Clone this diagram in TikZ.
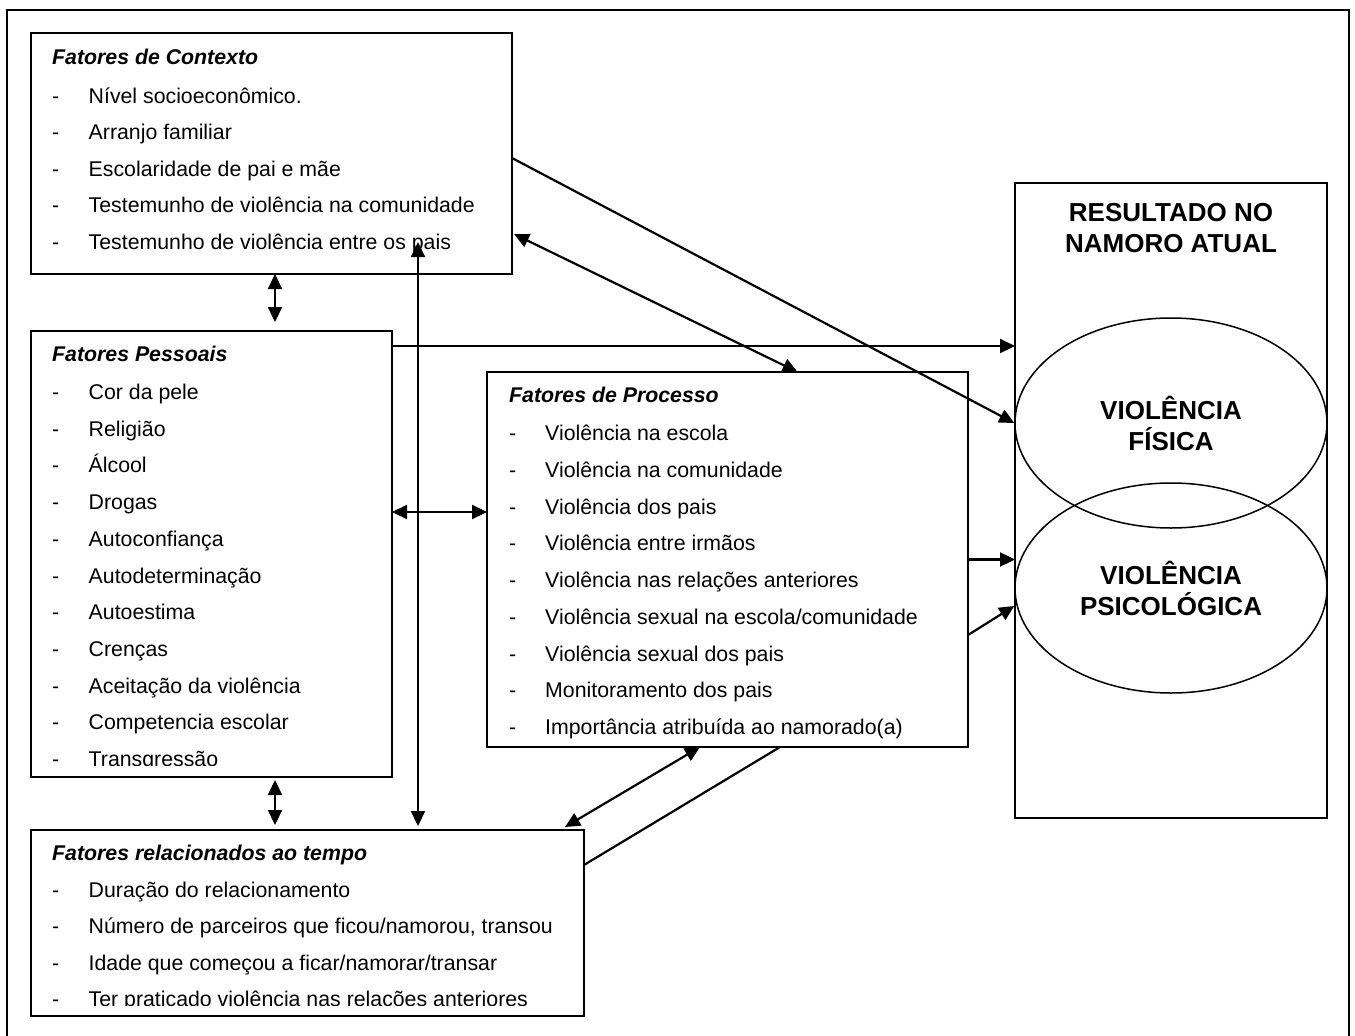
\documentclass[tikz,border=0pt]{standalone}
\usepackage{fontspec}
\setmainfont{Liberation Sans}
\usetikzlibrary{arrows.meta,shapes.geometric}
\tikzset{
  box/.style={draw, line width=1.6pt, rectangle, anchor=north west, inner sep=0pt, outer sep=0pt},
  txt/.style={anchor=base west, inner sep=0pt, font=\fontsize{21.3}{25}\selectfont},
  ttl/.style={anchor=base west, inner sep=0pt, font=\fontsize{21.3}{25}\selectfont\bfseries\itshape},
  big/.style={font=\fontsize{26}{31}\selectfont\bfseries, align=center},
  arr/.style={line width=2.2pt, -{Triangle[length=15pt,width=14pt]}},
  dbl/.style={line width=2.2pt, {Triangle[length=15pt,width=14pt]}-{Triangle[length=15pt,width=14pt]}},
  elli/.style={ellipse, draw, line width=1.5pt, minimum width=312pt, minimum height=210pt, inner sep=0pt, big},
  frame/.style={line width=2pt},
}
\begin{document}
\begin{tikzpicture}[x=1pt,y=-1pt]
\useasboundingbox (0,0) rectangle (1355,1036);
% outer frame
\draw[frame] (7,1036) -- (7,10) -- (1349,10) -- (1349,1036);

% boxes
\node[box, minimum width=481pt, minimum height=241pt] (ctx) at (31,33) {};
\node[box, minimum width=361pt, minimum height=446pt] (pes) at (31,331) {};
\node[box, minimum width=481pt, minimum height=375pt] (pro) at (487,372) {};
\node[box, minimum width=553pt, minimum height=186pt] (tem) at (31,830) {};
\node[box, minimum width=312pt, minimum height=635pt] (res) at (1015,183) {};

% Contexto text
\node[ttl] (ctxt) at (52,64) {Fatores de Contexto};
\foreach \t [count=\i] in {Nível socioeconômico., Arranjo familiar, Escolaridade de pai e mãe, Testemunho de violência na comunidade, Testemunho de violência entre os pais}{
  \node[txt] (ctxd\i) at (52,{103+36.5*(\i-1)}) {-};
  \node[txt] (ctx\i) at (88.5,{103+36.5*(\i-1)}) {\t};
}

% Pessoais text
\begin{scope}
\clip (31,331) rectangle (392,765.5);
\node[ttl] (pest) at (52,361.5) {Fatores Pessoais};
\foreach \t [count=\i] in {Cor da pele, Religião, Álcool, Drogas, Autoconfiança, Autodeterminação, Autoestima, Crenças, Aceitação da violência, Competencia escolar, Transgressão}{
  \node[txt] (pesd\i) at (52,{399.5+36.7*(\i-1)}) {-};
  \node[txt] (pes\i) at (88.5,{399.5+36.7*(\i-1)}) {\t};
}
\end{scope}

% Processo text
\node[ttl] (prot) at (509,402.5) {Fatores de Processo};
\foreach \t [count=\i] in {Violência na escola, Violência na comunidade, Violência dos pais, Violência entre irmãos, Violência nas relações anteriores, Violência sexual na escola/comunidade, Violência sexual dos pais, Monitoramento dos pais, Importância atribuída ao namorado(a)}{
  \node[txt] (prod\i) at (509,{440.5+36.75*(\i-1)}) {-};
  \node[txt] (pro\i) at (545,{440.5+36.75*(\i-1)}) {\t};
}

% Tempo text
\begin{scope}
\clip (31,830) rectangle (584,1005.5);
\node[ttl] (temt) at (52,860.5) {Fatores relacionados ao tempo};
\foreach \t [count=\i] in {Duração do relacionamento, {Número de parceiros que ficou/namorou, transou}, Idade que começou a ficar/namorar/transar, Ter praticado violência nas relações anteriores}{
  \node[txt] (temd\i) at (52,{897.5+36.4*(\i-1)}) {-};
  \node[txt] (tem\i) at (88.5,{897.5+36.4*(\i-1)}) {\t};
}
\end{scope}

% Resultado
\node[big, inner sep=0pt] (rest) at (1171,228) {RESULTADO NO\\NAMORO ATUAL};
\node[elli] (fis) at (1171,423) {VIOLÊNCIA\\FÍSICA};
\node[elli] (psi) at (1171,588) {VIOLÊNCIA\\PSICOLÓGICA};

% connectors
\draw[dbl] ([xshift=244pt]ctx.south west) -- ([xshift=244pt,yshift=9pt]pes.north west);
\draw[dbl] ([xshift=244pt,yshift=-3pt]pes.south west) -- ([xshift=244pt,yshift=5pt]tem.north west);
\draw[dbl] ([xshift=387pt,yshift=32pt]ctx.south west) -- ([xshift=387pt,yshift=4pt]tem.north west);
\draw[dbl] ([yshift=42pt]pes.east) -- ([yshift=47.5pt]pro.west);
\coordinate (p1) at ([yshift=-15pt]pes.north east);
\draw[arr] (p1) -- (p1 -| res.west);
\draw[arr] ([yshift=-4.5pt]ctx.east) -- (fis.west);
\draw[dbl] ([xshift=2pt,yshift=40pt]ctx.south east) -- ([xshift=70pt]pro.north);
\draw[arr] (pro.east) -- (pro.east -| res.west);
\draw[arr] ([yshift=-75.5pt]pro.east) -- ([yshift=-18pt]psi.west);
\draw[dbl] ([xshift=-27.5pt]pro.south) -- ([xshift=-19pt,yshift=3pt]tem.north east);
\draw[line width=2.2pt] ([yshift=-35pt]tem.north east) -- ([xshift=52.5pt]pro.south);
\end{tikzpicture}
\end{document}
